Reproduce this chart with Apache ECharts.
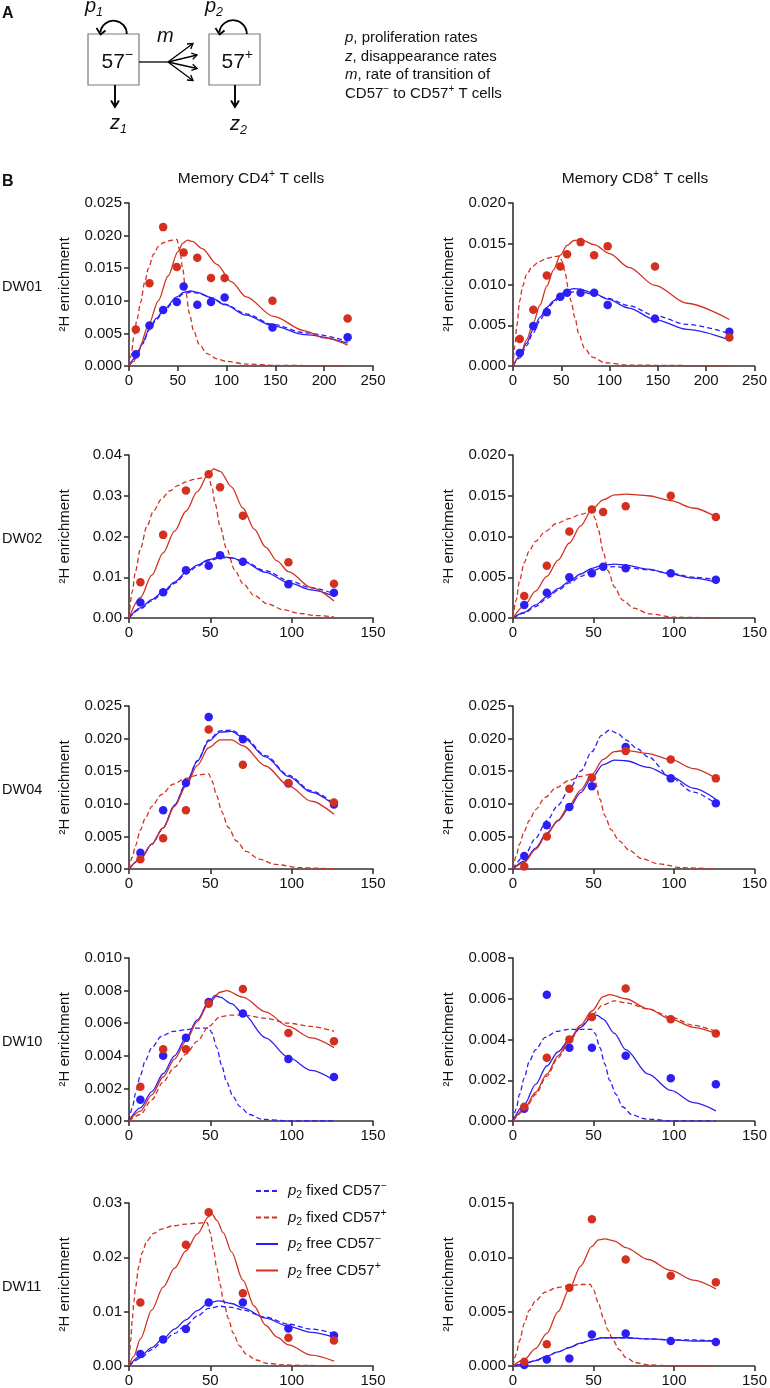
<!DOCTYPE html>
<html><head><meta charset="utf-8">
<script src="https://cdn.jsdelivr.net/npm/echarts/dist/echarts.min.js"></script>
<style>html,body{margin:0;padding:0;background:#fff}#c{width:770px;height:1388px}</style>
</head><body><div id="c"></div>
<script>
// ---------- measured data (CD57− = blue, CD57+ = red) ----------
const dw01_cd4_days = [7,21,35,49,56,70,84,98,147,224];
const dw01_cd4_neg = [0.0018,0.0062,0.0086,0.0098,0.0122,0.0094,0.0098,0.0105,0.0059,0.0044];
const dw01_cd4_pos = [0.0056,0.0127,0.0213,0.0152,0.0174,0.0166,0.0135,0.0135,0.0100,0.0073];
const dw01_cd4_fixedNeg = [[0,0],[7,0.0012],[14,0.0034],[21,0.0056],[28,0.0071],[36,0.0085],[49,0.0104],[56,0.0111],[63,0.0113],[70,0.0112],[84,0.0105],[98,0.0095],[120,0.0080],[147,0.0064],[180,0.0051],[224,0.0038]];
const dw01_cd4_freeNeg = [[0,0],[7,0.0014],[14,0.0036],[21,0.0058],[28,0.0073],[36,0.0087],[49,0.0106],[56,0.0113],[63,0.0115],[70,0.0113],[84,0.0105],[98,0.0094],[120,0.0078],[147,0.0062],[180,0.0048],[224,0.0035]];
const dw01_cd4_fixedPos = [[0,0],[2,0.0015],[5,0.0045],[8,0.0070],[12,0.0098],[16,0.0128],[20,0.0150],[25,0.0171],[30,0.0183],[35,0.0189],[40,0.0192],[45,0.0193],[49,0.0194],[52,0.0178],[55,0.0150],[58,0.0115],[62,0.0080],[66,0.0055],[72,0.0033],[80,0.0019],[90,0.0011],[100,0.0007],[120,0.0003],[150,0.0001],[224,0]];
const dw01_cd4_freePos = [[0,0],[5,0.0007],[10,0.0025],[20,0.0063],[30,0.0100],[40,0.0138],[50,0.0175],[55,0.0188],[60,0.0193],[65,0.0191],[75,0.0180],[90,0.0156],[105,0.0129],[120,0.0106],[148,0.0076],[180,0.0054],[200,0.0043],[224,0.0032]];

const dw01_cd8_days = [7,21,35,49,56,70,84,98,147,224];
const dw01_cd8_neg = [0.0016,0.0049,0.0066,0.0085,0.0090,0.0090,0.0090,0.0075,0.0058,0.0042];
const dw01_cd8_pos = [0.0033,0.0069,0.0111,0.0122,0.0137,0.0152,0.0136,0.0147,0.0122,0.0035];
const dw01_cd8_fixedNeg = [[0,0],[7,0.0010],[14,0.0025],[21,0.0041],[28,0.0056],[35,0.0069],[42,0.0078],[49,0.0085],[56,0.0090],[63,0.0091],[70,0.0091],[84,0.0088],[98,0.0083],[120,0.0074],[147,0.0062],[180,0.0051],[224,0.0040]];
const dw01_cd8_freeNeg = [[0,0],[7,0.0012],[14,0.0028],[21,0.0045],[28,0.0060],[35,0.0072],[42,0.0080],[49,0.0088],[56,0.0093],[63,0.0095],[70,0.0094],[84,0.0089],[98,0.0082],[120,0.0071],[147,0.0057],[180,0.0045],[224,0.0032]];
const dw01_cd8_fixedPos = [[0,0],[2,0.0025],[4,0.0050],[7,0.0080],[10,0.0098],[14,0.0112],[20,0.0122],[27,0.0128],[35,0.0132],[42,0.0134],[48,0.0135],[51,0.0128],[54,0.0114],[57,0.0097],[60,0.0080],[64,0.0060],[68,0.0040],[74,0.0022],[82,0.0011],[95,0.0004],[120,0.0001],[224,0]];
const dw01_cd8_freePos = [[0,0],[7,0.0012],[14,0.0032],[21,0.0053],[28,0.0075],[35,0.0098],[42,0.0118],[49,0.0136],[56,0.0148],[63,0.0154],[70,0.0155],[84,0.0149],[100,0.0138],[120,0.0121],[147,0.0099],[180,0.0077],[224,0.0057]];

const dw02_cd4_days = [7,21,35,49,56,70,98,126];
const dw02_cd4_neg = [0.0038,0.0063,0.0117,0.0128,0.0154,0.0138,0.0083,0.0062];
const dw02_cd4_pos = [0.0088,0.0204,0.0313,0.0353,0.0321,0.0251,0.0137,0.0084];
const dw02_cd4_fixedNeg = [[0,0],[7,0.0022],[14,0.0042],[21,0.0061],[28,0.0085],[35,0.0108],[42,0.0127],[49,0.0140],[56,0.0148],[63,0.0147],[70,0.0140],[84,0.0116],[98,0.0092],[112,0.0074],[126,0.0060]];
const dw02_cd4_freeNeg = [[0,0],[7,0.0025],[14,0.0045],[21,0.0064],[28,0.0088],[35,0.0112],[42,0.0130],[49,0.0143],[56,0.0151],[63,0.0148],[70,0.0139],[84,0.0112],[98,0.0087],[112,0.0069],[126,0.0054]];
const dw02_cd4_fixedPos = [[0,0],[2,0.0065],[4,0.0115],[7,0.0170],[11,0.0225],[15,0.0262],[20,0.0292],[25,0.0312],[30,0.0325],[35,0.0334],[40,0.0340],[45,0.0344],[49,0.0346],[51,0.0320],[53,0.0280],[56,0.0225],[60,0.0170],[65,0.0118],[70,0.0085],[77,0.0055],[85,0.0035],[95,0.0020],[105,0.0011],[115,0.0006],[126,0.0003]];
const dw02_cd4_freePos = [[0,0],[7,0.0050],[14,0.0105],[21,0.0160],[28,0.0213],[35,0.0262],[42,0.0310],[49,0.0355],[52,0.0366],[56,0.0360],[63,0.0322],[70,0.0270],[77,0.0218],[84,0.0174],[91,0.0140],[98,0.0114],[112,0.0075],[126,0.0042]];

const dw02_cd8_days = [7,21,35,49,56,70,98,126];
const dw02_cd8_neg = [0.0016,0.0031,0.0050,0.0055,0.0063,0.0061,0.0055,0.0047];
const dw02_cd8_pos = [0.0027,0.0064,0.0106,0.0133,0.0130,0.0137,0.0150,0.0124];
const dw02_cd8_fixedNeg = [[0,0],[7,0.0006],[14,0.0014],[21,0.0024],[28,0.0034],[35,0.0043],[42,0.0051],[49,0.0058],[56,0.0062],[63,0.0063],[70,0.0062],[84,0.0059],[98,0.0055],[112,0.0050],[126,0.0047]];
const dw02_cd8_freeNeg = [[0,0],[7,0.0007],[14,0.0016],[21,0.0026],[28,0.0036],[35,0.0045],[42,0.0054],[49,0.0061],[56,0.0065],[63,0.0066],[70,0.0065],[84,0.0060],[98,0.0054],[112,0.0049],[126,0.0044]];
const dw02_cd8_fixedPos = [[0,0],[2,0.0022],[4,0.0045],[7,0.0068],[10,0.0082],[14,0.0094],[20,0.0106],[27,0.0116],[35,0.0122],[42,0.0127],[49,0.0131],[51,0.0122],[53,0.0108],[56,0.0082],[59,0.0058],[63,0.0038],[68,0.0022],[75,0.0012],[85,0.0005],[100,0.0001],[126,0]];
const dw02_cd8_freePos = [[0,0],[7,0.0015],[14,0.0033],[21,0.0051],[28,0.0071],[35,0.0092],[42,0.0113],[49,0.0133],[56,0.0145],[63,0.0151],[70,0.0152],[84,0.0150],[98,0.0144],[112,0.0135],[126,0.0124]];

const dw04_cd4_days = [7,21,35,49,70,98,126];
const dw04_cd4_neg = [0.0025,0.0090,0.0132,0.0233,0.0199,0.0131,0.0099];
const dw04_cd4_pos = [0.0015,0.0047,0.0090,0.0214,0.0160,0.0132,0.0102];
const dw04_cd4_fixedNeg = [[0,0],[7,0.0015],[14,0.0038],[21,0.0063],[28,0.0098],[35,0.0131],[42,0.0166],[49,0.0198],[56,0.0212],[63,0.0213],[70,0.0204],[84,0.0174],[98,0.0144],[112,0.0120],[126,0.0100]];
const dw04_cd4_freeNeg = [[0,0],[7,0.0015],[14,0.0038],[21,0.0063],[28,0.0098],[35,0.0130],[42,0.0165],[49,0.0196],[56,0.0210],[63,0.0211],[70,0.0202],[84,0.0172],[98,0.0142],[112,0.0118],[126,0.0098]];
const dw04_cd4_fixedPos = [[0,0],[2,0.0018],[4,0.0036],[7,0.0060],[10,0.0078],[14,0.0096],[20,0.0114],[27,0.0130],[35,0.0139],[42,0.0144],[49,0.0146],[51,0.0135],[54,0.0112],[57,0.0088],[61,0.0064],[66,0.0043],[72,0.0027],[80,0.0015],[90,0.0007],[105,0.0002],[126,0]];
const dw04_cd4_freePos = [[0,0],[7,0.0015],[14,0.0038],[21,0.0063],[28,0.0096],[35,0.0127],[42,0.0159],[49,0.0186],[56,0.0198],[63,0.0198],[70,0.0189],[84,0.0158],[98,0.0128],[112,0.0104],[126,0.0084]];

const dw04_cd8_days = [7,21,35,49,70,98,126];
const dw04_cd8_neg = [0.0020,0.0067,0.0095,0.0127,0.0187,0.0139,0.0101];
const dw04_cd8_pos = [0.0004,0.0050,0.0123,0.0140,0.0181,0.0168,0.0139];
const dw04_cd8_fixedNeg = [[0,0],[7,0.0020],[14,0.0047],[21,0.0074],[28,0.0098],[35,0.0122],[42,0.0150],[49,0.0180],[55,0.0205],[60,0.0213],[65,0.0208],[70,0.0198],[77,0.0185],[84,0.0172],[98,0.0140],[112,0.0118],[126,0.0100]];
const dw04_cd8_freeNeg = [[0,0],[7,0.0012],[14,0.0032],[21,0.0055],[28,0.0074],[35,0.0094],[42,0.0117],[49,0.0140],[56,0.0160],[63,0.0167],[70,0.0166],[84,0.0156],[98,0.0142],[112,0.0124],[126,0.0107]];
const dw04_cd8_fixedPos = [[0,0],[2,0.0020],[4,0.0038],[7,0.0058],[10,0.0074],[14,0.0091],[20,0.0110],[27,0.0125],[35,0.0136],[42,0.0142],[49,0.0146],[51,0.0134],[54,0.0107],[57,0.0082],[61,0.0060],[66,0.0043],[72,0.0029],[80,0.0016],[90,0.0008],[105,0.0002],[126,0]];
const dw04_cd8_freePos = [[0,0],[7,0.0010],[14,0.0030],[21,0.0053],[28,0.0075],[35,0.0098],[42,0.0121],[49,0.0145],[56,0.0168],[63,0.0180],[70,0.0182],[84,0.0177],[98,0.0168],[112,0.0154],[126,0.0139]];

const dw10_cd4_days = [7,21,35,49,70,98,126];
const dw10_cd4_neg = [0.0013,0.0040,0.0051,0.0073,0.0066,0.0038,0.0027];
const dw10_cd4_pos = [0.0021,0.0044,0.0044,0.0072,0.0081,0.0054,0.0049];
const dw10_cd4_fixedNeg = [[0,0],[2,0.0008],[4,0.0017],[7,0.0028],[10,0.0037],[14,0.0045],[20,0.0052],[27,0.0055],[35,0.0056],[42,0.0057],[49,0.0057],[51,0.0054],[54,0.0045],[57,0.0034],[60,0.0024],[64,0.0015],[68,0.0009],[74,0.0004],[82,0.0001],[100,0],[126,0]];
const dw10_cd4_freeNeg = [[0,0],[7,0.0008],[14,0.0018],[21,0.0029],[28,0.0040],[35,0.0051],[42,0.0062],[49,0.0073],[53,0.0077],[56,0.0076],[63,0.0072],[70,0.0066],[84,0.0051],[98,0.0039],[112,0.0031],[126,0.0025]];
const dw10_cd4_fixedPos = [[0,0],[7,0.0004],[14,0.0013],[21,0.0024],[28,0.0033],[35,0.0041],[42,0.0049],[49,0.0058],[56,0.0064],[63,0.0065],[70,0.0065],[84,0.0063],[98,0.0060],[112,0.0058],[126,0.0055]];
const dw10_cd4_freePos = [[0,0],[7,0.0006],[14,0.0016],[21,0.0027],[28,0.0038],[35,0.0049],[42,0.0061],[49,0.0072],[56,0.0079],[60,0.0080],[70,0.0076],[84,0.0067],[98,0.0058],[112,0.0051],[126,0.0045]];

const dw10_cd8_days = [7,21,35,49,70,98,126];
const dw10_cd8_neg = [0.0006,0.0062,0.0036,0.0036,0.0032,0.0021,0.0018];
const dw10_cd8_pos = [0.0007,0.0031,0.0040,0.0051,0.0065,0.0050,0.0043];
const dw10_cd8_fixedNeg = [[0,0],[2,0.0006],[4,0.0013],[7,0.0021],[10,0.0029],[14,0.0035],[20,0.0041],[27,0.0044],[35,0.0045],[42,0.0045],[49,0.0045],[51,0.0043],[54,0.0036],[57,0.0028],[60,0.0020],[64,0.0013],[68,0.0007],[74,0.0003],[82,0.0001],[100,0],[126,0]];
const dw10_cd8_freeNeg = [[0,0],[7,0.0008],[14,0.0018],[21,0.0027],[28,0.0034],[35,0.0040],[42,0.0046],[49,0.0051],[52,0.0052],[56,0.0050],[63,0.0043],[70,0.0035],[84,0.0023],[98,0.0015],[112,0.0009],[126,0.0005]];
const dw10_cd8_fixedPos = [[0,0],[7,0.0005],[14,0.0013],[21,0.0022],[28,0.0031],[35,0.0039],[42,0.0046],[49,0.0052],[56,0.0057],[63,0.0059],[70,0.0058],[84,0.0055],[98,0.0051],[112,0.0047],[126,0.0044]];
const dw10_cd8_freePos = [[0,0],[7,0.0006],[14,0.0014],[21,0.0023],[28,0.0032],[35,0.0040],[42,0.0047],[49,0.0054],[56,0.0061],[60,0.0062],[70,0.0060],[84,0.0055],[98,0.0050],[112,0.0046],[126,0.0043]];

const dw11_cd4_days = [7,21,35,49,70,98,126];
const dw11_cd4_neg = [0.0022,0.0049,0.0068,0.0117,0.0117,0.0069,0.0056];
const dw11_cd4_pos = [0.0117,null,0.0223,0.0283,0.0134,0.0052,0.0047];
const dw11_cd4_fixedNeg = [[0,0],[7,0.0014],[14,0.0030],[21,0.0046],[28,0.0060],[35,0.0075],[42,0.0092],[49,0.0106],[56,0.0110],[63,0.0108],[70,0.0103],[84,0.0090],[98,0.0077],[112,0.0068],[126,0.0060]];
const dw11_cd4_freeNeg = [[0,0],[7,0.0018],[14,0.0034],[21,0.0050],[28,0.0068],[35,0.0085],[42,0.0102],[49,0.0116],[55,0.0120],[63,0.0115],[70,0.0107],[84,0.0088],[98,0.0073],[112,0.0062],[126,0.0053]];
const dw11_cd4_fixedPos = [[0,0],[1,0.0045],[2,0.0085],[3,0.0118],[4,0.0145],[6,0.0183],[8,0.0208],[11,0.0230],[15,0.0244],[20,0.0252],[27,0.0258],[35,0.0261],[42,0.0263],[48,0.0264],[50,0.0245],[52,0.0213],[54,0.0180],[56,0.0150],[58,0.0121],[61,0.0088],[64,0.0061],[68,0.0037],[72,0.0022],[78,0.0011],[85,0.0005],[95,0.0002],[110,0.0001],[126,0]];
const dw11_cd4_freePos = [[0,0],[3,0.0018],[7,0.0050],[14,0.0103],[21,0.0145],[28,0.0180],[35,0.0212],[42,0.0243],[49,0.0275],[51,0.0280],[54,0.0268],[58,0.0245],[63,0.0210],[70,0.0158],[77,0.0110],[84,0.0075],[91,0.0053],[98,0.0039],[112,0.0020],[126,0.0009]];

const dw11_cd8_days = [7,21,35,49,70,98,126];
const dw11_cd8_neg = [0.0001,0.0006,0.0007,0.0029,0.0030,0.0023,0.0022];
const dw11_cd8_pos = [0.0004,0.0020,0.0072,0.0135,0.0098,0.0083,0.0077];
const dw11_cd8_fixedNeg = [[0,0],[7,0.0002],[14,0.0005],[21,0.0009],[28,0.0013],[35,0.0017],[42,0.0021],[49,0.0024],[56,0.0026],[63,0.0026],[70,0.0026],[84,0.0025],[98,0.0024],[112,0.0024],[126,0.0023]];
const dw11_cd8_freeNeg = [[0,0],[7,0.0002],[14,0.0005],[21,0.0009],[28,0.0013],[35,0.0017],[42,0.0021],[49,0.0024],[56,0.0026],[63,0.0026],[70,0.0026],[84,0.0025],[98,0.0024],[112,0.0023],[126,0.0023]];
const dw11_cd8_fixedPos = [[0,0],[2,0.0011],[4,0.0023],[7,0.0039],[10,0.0051],[14,0.0060],[20,0.0068],[27,0.0072],[35,0.0074],[42,0.0075],[48,0.0075],[50,0.0070],[53,0.0058],[56,0.0045],[59,0.0033],[62,0.0024],[66,0.0015],[70,0.0008],[76,0.0003],[85,0.0001],[100,0],[126,0]];
const dw11_cd8_freePos = [[0,0],[7,0.0006],[14,0.0016],[21,0.0030],[28,0.0050],[35,0.0071],[42,0.0092],[49,0.0110],[53,0.0116],[57,0.0117],[63,0.0115],[70,0.0109],[84,0.0098],[98,0.0088],[112,0.0079],[126,0.0071]];

// axis ranges / ticks per panel (row-major: CD4, CD8)
const rowLabels = ['DW01','DW02','DW04','DW10','DW11'];
const xMaxes   = [250,250, 150,150, 150,150, 150,150, 150,150];
const yMaxes   = [0.025,0.020, 0.04,0.020, 0.025,0.025, 0.010,0.008, 0.03,0.015];
const yIntervals = [0.005,0.005, 0.01,0.005, 0.005,0.005, 0.002,0.002, 0.01,0.005];
const yDecimals  = [3,3, 2,3, 3,3, 3,3, 2,3];
const seriesNames = ['p2 fixed CD57−','p2 fixed CD57+','p2 free CD57−','p2 free CD57+'];

const panels = [
  [dw01_cd4_days,dw01_cd4_neg,dw01_cd4_pos,dw01_cd4_fixedNeg,dw01_cd4_fixedPos,dw01_cd4_freeNeg,dw01_cd4_freePos],
  [dw01_cd8_days,dw01_cd8_neg,dw01_cd8_pos,dw01_cd8_fixedNeg,dw01_cd8_fixedPos,dw01_cd8_freeNeg,dw01_cd8_freePos],
  [dw02_cd4_days,dw02_cd4_neg,dw02_cd4_pos,dw02_cd4_fixedNeg,dw02_cd4_fixedPos,dw02_cd4_freeNeg,dw02_cd4_freePos],
  [dw02_cd8_days,dw02_cd8_neg,dw02_cd8_pos,dw02_cd8_fixedNeg,dw02_cd8_fixedPos,dw02_cd8_freeNeg,dw02_cd8_freePos],
  [dw04_cd4_days,dw04_cd4_neg,dw04_cd4_pos,dw04_cd4_fixedNeg,dw04_cd4_fixedPos,dw04_cd4_freeNeg,dw04_cd4_freePos],
  [dw04_cd8_days,dw04_cd8_neg,dw04_cd8_pos,dw04_cd8_fixedNeg,dw04_cd8_fixedPos,dw04_cd8_freeNeg,dw04_cd8_freePos],
  [dw10_cd4_days,dw10_cd4_neg,dw10_cd4_pos,dw10_cd4_fixedNeg,dw10_cd4_fixedPos,dw10_cd4_freeNeg,dw10_cd4_freePos],
  [dw10_cd8_days,dw10_cd8_neg,dw10_cd8_pos,dw10_cd8_fixedNeg,dw10_cd8_fixedPos,dw10_cd8_freeNeg,dw10_cd8_freePos],
  [dw11_cd4_days,dw11_cd4_neg,dw11_cd4_pos,dw11_cd4_fixedNeg,dw11_cd4_fixedPos,dw11_cd4_freeNeg,dw11_cd4_freePos],
  [dw11_cd8_days,dw11_cd8_neg,dw11_cd8_pos,dw11_cd8_fixedNeg,dw11_cd8_fixedPos,dw11_cd8_freeNeg,dw11_cd8_freePos]
];

// ---------- layout & style ----------
const FONT = 'Liberation Sans, Arial, Helvetica, sans-serif';
const BLUE = '#2d1ef5', RED = '#d3301f', AX = '#333', TXT = '#111';
const gridLefts = [129, 513], gridTops = [203, 455, 706, 958, 1203], GW = 244, GH = 163;

const grids = [], xAxes = [], yAxes = [], series = [];
panels.forEach((p, i) => {
  const row = Math.floor(i / 2), col = i % 2;
  grids.push({left: gridLefts[col], top: gridTops[row], width: GW, height: GH, containLabel: false});
  const axisLine = {show: true, onZero: false, lineStyle: {color: AX, width: 1.6}};
  const axisTick = {show: true, inside: false, length: 5, lineStyle: {color: AX, width: 1.6}};
  xAxes.push({type: 'value', gridIndex: i, min: 0, max: xMaxes[i], interval: 50,
    axisLine, axisTick, splitLine: {show: false},
    axisLabel: {color: TXT, fontSize: 15, fontFamily: FONT, margin: 7}});
  const dec = yDecimals[i];
  yAxes.push({type: 'value', gridIndex: i, min: 0, max: yMaxes[i], interval: yIntervals[i],
    axisLine, axisTick, splitLine: {show: false},
    axisLabel: {color: TXT, fontSize: 15, fontFamily: FONT, margin: 7, formatter: v => v.toFixed(dec)},
    name: '²H enrichment', nameLocation: 'middle', nameRotate: 90, nameGap: 57,
    nameTextStyle: {color: TXT, fontSize: 15, fontFamily: FONT}});
  const [days, neg, pos, fNeg, fPos, frNeg, frPos] = p;
  const lineDefs = [[fNeg, BLUE, [5, 3], seriesNames[0]], [fPos, RED, [5, 3], seriesNames[1]],
                    [frNeg, BLUE, 'solid', seriesNames[2]], [frPos, RED, 'solid', seriesNames[3]]];
  lineDefs.forEach(([d, c, t, n]) => series.push({type: 'line', name: n, xAxisIndex: i, yAxisIndex: i,
    data: d, symbol: 'none', smooth: 0.3, smoothMonotone: 'x', color: c,
    lineStyle: {color: c, width: 1.3, type: t}, z: 2, silent: true}));
  const pts = (vals) => days.map((t, k) => vals[k] == null ? null : [t, vals[k]]).filter(a => a);
  series.push({type: 'scatter', name: 'CD57− data', xAxisIndex: i, yAxisIndex: i, data: pts(neg),
    symbol: 'circle', symbolSize: 8.5, itemStyle: {color: BLUE, opacity: 1}, z: 3, silent: true});
  series.push({type: 'scatter', name: 'CD57+ data', xAxisIndex: i, yAxisIndex: i, data: pts(pos),
    symbol: 'circle', symbolSize: 8.5, itemStyle: {color: RED, opacity: 1}, z: 4, silent: true});
});

const legendRich = {
  'p2 fixed CD57−': '{i|p}{sb|2}{t| fixed CD57}{sp|−}',
  'p2 fixed CD57+': '{i|p}{sb|2}{t| fixed CD57}{sp|+}',
  'p2 free CD57−': '{i|p}{sb|2}{t| free CD57}{sp|−}',
  'p2 free CD57+': '{i|p}{sb|2}{t| free CD57}{sp|+}'
};
const baseRich = {
  t: {fontSize: 15, lineHeight: 20, fontFamily: FONT, color: TXT},
  i: {fontSize: 15, lineHeight: 20, fontFamily: FONT, fontStyle: 'italic', color: TXT},
  sb: {fontSize: 10.5, lineHeight: 11, fontFamily: FONT, verticalAlign: 'bottom', color: TXT},
  sp: {fontSize: 10.5, lineHeight: 11, fontFamily: FONT, verticalAlign: 'top', color: TXT}
};

// ---------- panel A diagram + labels ----------
const G = [];
const txt = (x, y, text, style) => G.push({type: 'text', x, y, silent: true,
  style: Object.assign({text, fill: TXT, fontFamily: FONT, fontSize: 15, align: 'left', verticalAlign: 'middle'}, style)});
function arrow(x1, y1, x2, y2, w, L) {
  const a = Math.atan2(y2 - y1, x2 - x1), s = 0.55;
  G.push({type: 'line', silent: true, shape: {x1, y1, x2, y2}, style: {stroke: '#000', lineWidth: w}});
  G.push({type: 'polyline', silent: true, shape: {points: [
    [x2 - L * Math.cos(a - s), y2 - L * Math.sin(a - s)], [x2, y2],
    [x2 - L * Math.cos(a + s), y2 - L * Math.sin(a + s)]]},
    style: {stroke: '#000', fill: null, lineWidth: w, lineJoin: 'miter'}});
}
// boxes
G.push({type: 'rect', silent: true, shape: {x: 88, y: 34, width: 51, height: 51}, style: {stroke: '#7a7a7a', fill: '#fff', lineWidth: 1.2}});
G.push({type: 'rect', silent: true, shape: {x: 209, y: 34, width: 51, height: 51}, style: {stroke: '#7a7a7a', fill: '#fff', lineWidth: 1.2}});
// self loops
G.push({type: 'arc', silent: true, shape: {cx: 113.5, cy: 34, r: 13.3, startAngle: Math.PI * 1.04, endAngle: Math.PI * 2, clockwise: true}, style: {stroke: '#000', fill: null, lineWidth: 1.8}});
G.push({type: 'polyline', silent: true, shape: {points: [[96.5, 28], [100.6, 34.5], [105.5, 30.5]]}, style: {stroke: '#000', fill: null, lineWidth: 1.8}});
G.push({type: 'arc', silent: true, shape: {cx: 233, cy: 34, r: 13.8, startAngle: Math.PI * 1.04, endAngle: Math.PI * 2, clockwise: true}, style: {stroke: '#000', fill: null, lineWidth: 1.8}});
G.push({type: 'polyline', silent: true, shape: {points: [[215.5, 28], [219.6, 34.5], [224.5, 30.5]]}, style: {stroke: '#000', fill: null, lineWidth: 1.8}});
// transition line + fan
G.push({type: 'line', silent: true, shape: {x1: 139, y1: 62, x2: 168, y2: 62}, style: {stroke: '#000', lineWidth: 1.3}});
arrow(168, 62, 193, 43.5, 1.3, 6);
arrow(168, 62, 197, 55, 1.3, 6);
arrow(168, 62, 197, 68.5, 1.3, 6);
arrow(168, 62, 193, 80.5, 1.3, 6);
// disappearance arrows
arrow(115, 85, 115, 107, 1.9, 7.5);
arrow(235, 85, 235, 107, 1.9, 7.5);
const symRich = {
  i: {fontSize: 20, lineHeight: 26, fontStyle: 'italic', fontFamily: FONT, color: TXT},
  sb: {fontSize: 12.5, lineHeight: 12, fontStyle: 'italic', fontFamily: FONT, verticalAlign: 'bottom', color: TXT},
  n: {fontSize: 21, lineHeight: 28, fontFamily: FONT, color: TXT},
  sp: {fontSize: 14, lineHeight: 14, fontFamily: FONT, verticalAlign: 'top', color: TXT}
};
txt(85, 6, '{i|p}{sb|1}', {rich: symRich});
txt(205, 6, '{i|p}{sb|2}', {rich: symRich});
txt(157, 36, '{i|m}', {rich: symRich});
txt(110, 123, '{i|z}{sb|1}', {rich: symRich});
txt(230, 124, '{i|z}{sb|2}', {rich: symRich});
txt(101.5, 62, '{n|57}{sp|−}', {rich: symRich});
txt(221.5, 62, '{n|57}{sp|+}', {rich: symRich});
// key text
const keyRich = {
  t: {fontSize: 15, fontFamily: FONT, color: TXT, lineHeight: 18},
  i: {fontSize: 15, fontFamily: FONT, color: TXT, fontStyle: 'italic', lineHeight: 18},
  sp: {fontSize: 10, fontFamily: FONT, color: TXT, lineHeight: 10, verticalAlign: 'top'}
};
txt(345, 38, '{i|p}{t|, proliferation rates}', {rich: keyRich});
txt(345, 56.5, '{i|z}{t|, disappearance rates}', {rich: keyRich});
txt(345, 75, '{i|m}{t|, rate of transition of}', {rich: keyRich});
txt(345, 93.5, '{t|CD57}{sp|−}{t| to CD57}{sp|+}{t| T cells}', {rich: keyRich});
// panel letters
txt(2, 13.3, 'A', {fontSize: 16, fontWeight: 'bold'});
txt(2, 181.5, 'B', {fontSize: 16, fontWeight: 'bold'});
// column titles
const titleRich = {
  t: {fontSize: 15.5, fontFamily: FONT, color: TXT, lineHeight: 20},
  sp: {fontSize: 10.5, fontFamily: FONT, color: TXT, lineHeight: 11, verticalAlign: 'top'}
};
txt(251, 179, '{t|Memory CD4}{sp|+}{t| T cells}', {rich: titleRich, align: 'center'});
txt(635, 179, '{t|Memory CD8}{sp|+}{t| T cells}', {rich: titleRich, align: 'center'});
// row labels
rowLabels.forEach((r, k) => txt(2, gridTops[k] + GH / 2 + 2.5, r, {fontSize: 14.5}));

const chart = echarts.init(document.getElementById('c'), null, {renderer: 'canvas'});
chart.setOption({
  animation: false,
  backgroundColor: '#fff',
  textStyle: {fontFamily: FONT},
  grid: grids, xAxis: xAxes, yAxis: yAxes, series,
  legend: {
    data: seriesNames, orient: 'vertical', left: 255, top: 1181, padding: 0,
    itemWidth: 22, itemHeight: 10, itemGap: 6.5, selectedMode: false,
    itemStyle: {opacity: 0, borderWidth: 0},
    lineStyle: {opacity: 1},
    formatter: n => legendRich[n],
    textStyle: {fontSize: 15, fontFamily: FONT, color: TXT, padding: [0, 0, 0, 5], rich: baseRich}
  },
  graphic: {elements: G}
});
</script>
</body></html>
